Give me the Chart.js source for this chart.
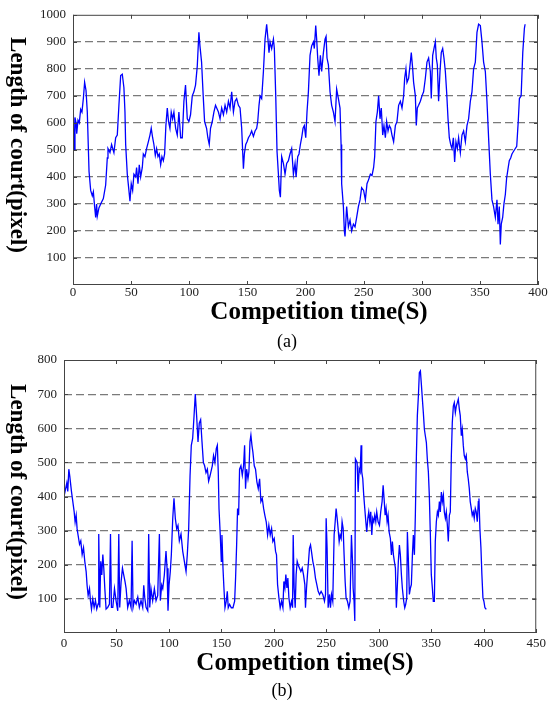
<!DOCTYPE html>
<html>
<head>
<meta charset="utf-8">
<script src="https://cdn.jsdelivr.net/npm/chart.js@4.4.1/dist/chart.umd.min.js"></script>
<style>
  body { margin: 0; background: #fff; width: 549px; height: 702px; position: relative; overflow: hidden; }
  canvas { position: absolute; left: 0; }
  .lbl { position: absolute; font-family: "Liberation Serif", "Times New Roman", serif; color: #000;
         white-space: nowrap; line-height: 1; transform: translate(-50%, -50%); }
  .ytitle { font-size: 23px; font-weight: bold; transform: translate(-50%, -50%) rotate(90deg); }
  .xtitle { font-size: 25px; font-weight: bold; }
  .cap { font-size: 18px; }
</style>
</head>
<body>
<canvas id="chartA" width="549" height="325" style="top:0"></canvas>
<canvas id="chartB" width="549" height="340" style="top:340px"></canvas>

<div class="lbl ytitle" style="left:18px;top:145px">Length of court(pixel)</div>
<div class="lbl xtitle" style="left:319px;top:310px">Competition time(S)</div>
<div class="lbl cap" style="left:287px;top:341px">(a)</div>
<div class="lbl ytitle" style="left:18px;top:492px">Length of court(pixel)</div>
<div class="lbl xtitle" style="left:305px;top:661px">Competition time(S)</div>
<div class="lbl cap" style="left:282px;top:690px">(b)</div>

<script>
// tick labels
const xTicksA = [0, 50, 100, 150, 200, 250, 300, 350, 400];
const yTicksA = [100, 200, 300, 400, 500, 600, 700, 800, 900, 1000];
const xTicksB = [0, 50, 100, 150, 200, 250, 300, 350, 400, 450];
const yTicksB = [100, 200, 300, 400, 500, 600, 700, 800];

// (a) competition time (s) / length of court (pixel)
const timeA = [
  0, 0.3, 0.9, 1.7, 2.6, 3.2, 4.3, 5.4, 6.6, 7.7, 8.9, 10, 11.2, 12.3, 13.8, 15.2, 16.6, 17.5, 18.6, 19.5,
  20.3, 20.9, 22.3, 23.8, 26.1, 28.1, 29.5, 30.1, 31.8, 33.2, 35.2, 36.7, 38.1, 39.5, 41, 42.4, 43.8, 44.7, 45.3, 46.7,
  48.1, 49, 50.1, 51.3, 52.4, 53.9, 54.7, 55.9, 57, 58.2, 59.6, 60.5, 61.9, 63.3, 64.8, 66.2, 67.3, 68.5, 69.6, 70.8,
  71.9, 73.1, 74.2, 75.4, 76.5, 77.7, 78.8, 79.9, 81.1, 82.2, 83.4, 84.5, 85.7, 86.8, 88.3, 89.7, 91.1, 92.6, 94, 95.4,
  96.8, 98.3, 99.7, 101.1, 102.6, 104, 105.4, 106.9, 108.3, 109.2, 110.6, 112, 113.2, 114.9, 116, 117.2, 118.3, 119.8, 121.2, 122.6,
  125.1, 126.5, 127.9, 129.4, 130.8, 132.2, 133.7, 135.1, 136.5, 138, 139.4, 140.8, 142.3, 143.7, 145.1, 146.6, 147.4, 148.6, 149.7, 150.9,
  152.3, 153.7, 155.2, 156.6, 158, 158.9, 160, 160.9, 162.3, 163.8, 165.2, 166.6, 167.5, 168.6, 169.5, 170.9, 172.4, 173.2, 174.4, 175.5,
  176.7, 177.5, 178.4, 179.5, 181, 182.4, 183.8, 185.3, 186.7, 188.1, 189.6, 191, 191.9, 193.3, 194.4, 195.6, 196.7, 197.9, 199, 200.2,
  201.3, 202.5, 203.9, 205.3, 206.8, 207.6, 208.8, 209.6, 210.5, 211.6, 212.8, 213.9, 215.4, 216.8, 217.7, 218.5, 219.7, 221.1, 222.5, 224,
  225.4, 226.8, 228.3, 229.7, 230.6, 231.1, 232.6, 233.4, 234, 235.4, 236.9, 238.3, 239.7, 241.2, 242.6, 244, 245.5, 246.9, 248.3, 250,
  251.5, 252.9, 254.3, 255.8, 257.2, 258.6, 259.5, 260.6, 261.8, 262.9, 264.1, 265.2, 266.4, 267.5, 268.7, 269.8, 271, 272.1, 273.3, 274.4,
  275.8, 277.3, 278.7, 280.1, 281.6, 283, 284.4, 285.3, 286.4, 287.3, 288.7, 290.2, 291, 292.2, 293, 294.5, 295.3, 296.2, 297.3, 298.8,
  300.2, 301.6, 303.1, 304.5, 305.9, 307.4, 308.2, 309.4, 310.5, 311.7, 312.5, 313.4, 314.5, 315.7, 316.8, 318, 319.1, 320.3, 321.4, 322.6,
  323.7, 324.9, 326, 327.2, 328.3, 329.4, 330.6, 331.7, 333.2, 334.6, 336, 337.5, 338.9, 340.3, 341.8, 343.2, 344.6, 346.1, 347.5, 348.9,
  350.4, 351.8, 353.2, 354.7, 356.1, 357.5, 359, 360.4, 361.8, 363.3, 364.7, 365.6, 366.7, 367.6, 368.4, 369.6, 370.7, 371.9, 373, 374.2,
  375.3, 376.5, 377.6, 379, 381.7, 383, 384, 385.5, 386.9, 388.3, 388.9
];
const lengthA = [
  5, 640, 500, 620, 600, 560, 610, 600, 650, 640, 690, 750, 720, 640, 420, 350, 330, 345, 290, 250,
  300, 255, 285, 300, 320, 370, 470, 505, 490, 520, 490, 545, 555, 665, 775, 780, 730, 640, 520, 410,
  350, 310, 375, 350, 410, 400, 435, 375, 445, 400, 435, 485, 475, 505, 530, 555, 580, 545, 520, 480,
  505, 475, 485, 445, 475, 460, 485, 590, 655, 605, 580, 640, 615, 640, 580, 555, 640, 545, 545, 680,
  740, 615, 605, 630, 700, 715, 740, 810, 935, 885, 825, 700, 605, 580, 545, 520, 580, 605, 640, 665,
  640, 615, 655, 630, 665, 640, 680, 655, 715, 640, 680, 690, 665, 655, 580, 430, 485, 520, 530, 545,
  555, 570, 550, 570, 580, 605, 665, 700, 690, 790, 910, 965, 920, 860, 900, 875, 910, 875, 700, 495,
  410, 350, 325, 475, 450, 410, 450, 460, 485, 505, 410, 450, 400, 475, 485, 520, 545, 580, 590, 545,
  640, 715, 850, 885, 900, 875, 960, 910, 840, 775, 850, 790, 860, 910, 920, 840, 815, 715, 665, 640,
  605, 725, 690, 655, 520, 375, 290, 200, 180, 290, 215, 240, 200, 225, 215, 250, 290, 315, 360, 350,
  315, 375, 390, 410, 405, 435, 475, 605, 640, 700, 615, 655, 555, 590, 545, 605, 570, 590, 580, 555,
  530, 590, 605, 665, 680, 655, 700, 765, 800, 750, 765, 825, 860, 800, 750, 700, 590, 655, 665, 680,
  700, 715, 765, 825, 840, 790, 690, 850, 875, 900, 840, 815, 680, 790, 860, 875, 840, 790, 715, 615,
  545, 520, 505, 545, 455, 530, 505, 545, 490, 555, 570, 530, 590, 615, 680, 715, 800, 825, 935, 965,
  960, 900, 825, 790, 680, 545, 410, 315, 290, 250, 315, 225, 290, 150, 225, 250, 300, 335, 395, 430,
  460, 470, 485, 495, 513, 605, 690, 700, 860, 950, 965
];

// (b) competition time (s) / length of court (pixel)
const timeB = [
  0, 2.7, 3.6, 4.6, 5.5, 6.2, 7.1, 8.4, 9.7, 10.6, 11.6, 12.5, 13.5, 14.8, 16, 17.3, 18.6, 19.8, 21.1, 22,
  23, 24.3, 25.2, 26.2, 27.4, 28.7, 30, 31.2, 32.5, 33.1, 34.1, 35, 36, 37, 37.9, 38.9, 40.1, 41.7, 43.3, 44.3,
  45.2, 46.5, 48.1, 49.6, 51.2, 52.2, 53.1, 54.4, 55.7, 56.9, 58.2, 59.2, 60.7, 62.3, 63.9, 64.9, 65.8, 67.1, 68.7, 70.3,
  71.8, 73.4, 75, 76, 76.9, 78.2, 79.8, 80.7, 81.7, 82.9, 84.5, 86.1, 87.7, 89.3, 90.9, 91.8, 93.1, 94.1, 95.6, 97.2,
  98.2, 99.1, 100.1, 101.3, 102.3, 103.6, 104.8, 106.1, 107.4, 108.6, 109.9, 111.5, 113.1, 114.7, 116.3, 117.5, 118.8, 120.1, 121.3, 122.6,
  123.9, 125.1, 126.4, 127.7, 128.9, 130.2, 131.5, 132.8, 134, 135.3, 136.6, 137.8, 139.1, 141.3, 142.5, 143.8, 145.1, 146.1, 147, 147.7,
  148.9, 149.9, 150.5, 151.5, 152.4, 153.4, 154.6, 155.6, 156.5, 157.8, 159.4, 161, 162.6, 163.5, 164.5, 165.4, 166.4, 167.3, 168.6, 169.9,
  171.1, 172.1, 173, 174, 175.3, 176.2, 177.2, 178.1, 179.1, 180, 181.3, 182.5, 183.8, 185.1, 186.4, 187.6, 188.9, 190.2, 191.4, 192.7,
  194, 195.2, 196.5, 197.8, 199, 200.3, 201.6, 202.5, 203.5, 204.8, 206, 207.3, 208.6, 209.5, 210.5, 211.4, 212.4, 213.3, 214.3, 215.5,
  216.8, 217.8, 218.4, 219.3, 220.3, 221.2, 222.2, 223.1, 224.4, 225.7, 227, 228.2, 229.5, 230.1, 231.1, 232, 233, 233.9, 234.9, 235.8,
  237.1, 238.4, 239.6, 240.9, 242.2, 243.5, 245, 246.6, 248.2, 249.2, 249.8, 250.7, 251.7, 253, 253.9, 254.9, 256.1, 257.4, 258.4, 259.3,
  260.3, 261.2, 262.2, 263.1, 264.1, 265, 266, 266.9, 267.9, 268.8, 270.1, 271.4, 272.6, 273.9, 274.9, 275.5, 276.4, 277.1, 277.7, 279.3,
  280.3, 281.2, 282.2, 283.1, 283.7, 284.7, 285.6, 286.6, 287.6, 288.5, 289.5, 290.4, 291.4, 292.3, 293.3, 294.2, 295.2, 296.1, 297.1, 298,
  299.3, 300.6, 301.8, 303.1, 304.1, 305, 306, 306.9, 307.9, 308.8, 309.8, 311, 312, 312.9, 313.9, 314.8, 315.8, 316.7, 317.7, 318.6,
  319.6, 320.5, 321.5, 322.4, 323.7, 324.7, 325.6, 326.6, 327.2, 328.2, 329.1, 330.1, 331, 332, 332.9, 333.9, 334.8, 335.8, 336.7, 337.7,
  338.6, 339.6, 340.5, 341.5, 342.4, 343.4, 344.3, 345.3, 346.2, 347.2, 348.1, 349.1, 350, 351, 351.9, 352.9, 353.8, 354.8, 355.8, 356.7,
  357.7, 358.6, 359.6, 360.5, 361.5, 362.4, 363.4, 364.3, 365.3, 366.2, 367.2, 368.1, 369.1, 370, 371, 371.9, 372.9, 373.8, 374.8, 375.7,
  376.7, 377.6, 378.6, 379.5, 380.5, 381.4, 382.4, 383.3, 384.3, 385.2, 386.2, 387.1, 388.1, 389, 390, 390.9, 391.9, 392.8, 393.8, 394.8,
  395.4, 396.3, 397.3, 398.2, 399.2, 400.1, 401.1, 402.4
];
const lengthB = [
  400, 440, 415, 480, 460, 440, 415, 385, 355, 325, 345, 305, 285, 260, 270, 230, 250, 210, 180, 140,
  110, 130, 95, 70, 100, 75, 95, 70, 85, 290, 75, 210, 170, 230, 190, 130, 70, 75, 85, 290,
  75, 75, 130, 95, 65, 290, 75, 150, 190, 170, 150, 130, 75, 95, 75, 270, 75, 95, 85, 105,
  75, 95, 75, 140, 105, 75, 65, 290, 75, 130, 95, 130, 95, 110, 290, 95, 140, 130, 170, 240,
  190, 65, 140, 180, 230, 335, 395, 335, 305, 315, 270, 290, 240, 210, 180, 230, 305, 460, 550, 570,
  635, 700, 635, 560, 615, 625, 560, 500, 490, 470, 480, 445, 460, 490, 520, 500, 540, 550, 472, 365,
  287, 210, 287, 190, 132, 74, 93, 122, 74, 84, 74, 74, 93, 161, 258, 365, 345, 480, 490, 462,
  490, 550, 423, 480, 452, 472, 560, 580, 550, 530, 490, 480, 443, 423, 452, 385, 395, 365, 345, 326,
  287, 316, 287, 306, 268, 277, 239, 229, 142, 103, 74, 93, 74, 151, 132, 171, 132, 161, 103, 74,
  93, 74, 287, 132, 74, 171, 210, 200, 190, 180, 190, 171, 142, 74, 132, 171, 210, 248, 258, 239,
  210, 190, 161, 142, 122, 113, 122, 113, 93, 113, 336, 248, 74, 113, 74, 113, 93, 287, 326, 365,
  336, 306, 268, 287, 277, 326, 306, 229, 151, 103, 93, 74, 93, 287, 210, 132, 93, 35, 510, 500,
  413, 481, 472, 550, 472, 452, 404, 365, 326, 296, 336, 355, 326, 355, 287, 336, 326, 345, 326, 355,
  326, 316, 355, 385, 433, 394, 345, 365, 326, 345, 296, 277, 229, 268, 229, 210, 190, 74, 142, 210,
  258, 229, 171, 132, 93, 74, 84, 103, 296, 210, 113, 132, 142, 229, 287, 229, 345, 520, 637, 695,
  763, 768, 730, 685, 646, 597, 578, 558, 510, 472, 404, 287, 171, 132, 93, 93, 268, 326, 355, 345,
  385, 355, 413, 385, 404, 355, 336, 355, 316, 268, 345, 355, 520, 617, 665, 675, 646, 665, 675, 685,
  656, 637, 578, 597, 549, 520, 510, 520, 472, 452, 423, 385, 365, 345, 355, 336, 365, 355, 326, 385,
  394, 306, 249, 171, 103, 93, 74, 69
];

function toPoints(xs, ys) {
  return xs.map((x, i) => ({ x: x, y: ys[i] }));
}

// рамка и внутренние засечки как в MATLAB
const boxPlugin = {
  id: 'matlabBox',
  afterDraw(chart) {
    const { ctx, chartArea: a, scales: { x, y } } = chart;
    ctx.save();
    ctx.strokeStyle = '#444';
    ctx.lineWidth = 1;
    ctx.strokeRect(a.left + 0.5, a.top + 0.5, a.right - a.left - 1, a.bottom - a.top - 1);
    ctx.beginPath();
    x.ticks.forEach(t => {
      const px = Math.round(x.getPixelForValue(t.value)) + 0.5;
      ctx.moveTo(px, a.bottom); ctx.lineTo(px, a.bottom - 4);
      ctx.moveTo(px, a.top); ctx.lineTo(px, a.top + 4);
    });
    y.ticks.forEach(t => {
      const py = Math.round(y.getPixelForValue(t.value)) + 0.5;
      ctx.moveTo(a.left, py); ctx.lineTo(a.left + 4, py);
      ctx.moveTo(a.right, py); ctx.lineTo(a.right - 4, py);
    });
    ctx.stroke();
    ctx.restore();
  }
};

const tickFont = { family: 'Liberation Serif', size: 13 };

function makeChart(id, times, lengths, xTicks, yTicks, dims) {
  const yMax = yTicks[yTicks.length - 1];
  return new Chart(document.getElementById(id), {
    type: 'line',
    data: {
      datasets: [{
        data: toPoints(times, lengths),
        borderColor: '#0000ff',
        borderWidth: 1.3,
        pointRadius: 0,
        tension: 0,
        fill: false
      }]
    },
    options: {
      responsive: false,
      animation: false,
      layout: { padding: { top: dims.top, right: dims.right, left: 0, bottom: 0 } },
      plugins: { legend: { display: false }, tooltip: { enabled: false } },
      scales: {
        x: {
          type: 'linear',
          min: xTicks[0],
          max: xTicks[xTicks.length - 1],
          afterBuildTicks: s => { s.ticks = xTicks.map(v => ({ value: v })); },
          afterFit: s => { s.height = dims.xHeight; },
          grid: { display: false, drawTicks: false },
          border: { display: false },
          ticks: { font: tickFont, color: '#222', padding: dims.xPad, maxRotation: 0, autoSkip: false,
                   callback: v => String(v) }
        },
        y: {
          type: 'linear',
          min: 0,
          max: yMax,
          afterBuildTicks: s => { s.ticks = yTicks.map(v => ({ value: v })); },
          afterFit: s => { s.width = dims.yWidth; },
          grid: {
            drawTicks: false,
            lineWidth: 1.2,
            color: c => (c.tick && c.tick.value === yMax) ? 'rgba(0,0,0,0)' : '#7a7a7a'
          },
          border: { display: false, dash: [8, 4] },
          ticks: { font: tickFont, color: '#222', padding: 7, autoSkip: false,
                   callback: v => String(v) }
        }
      }
    },
    plugins: [boxPlugin]
  });
}

makeChart('chartA', timeA, lengthA, xTicksA, yTicksA, { top: 12, right: 11, yWidth: 73, xHeight: 40, xPad: 0 });
makeChart('chartB', timeB, lengthB, xTicksB, yTicksB, { top: 20, right: 12, yWidth: 64, xHeight: 47, xPad: 3 });
</script>
</body>
</html>
